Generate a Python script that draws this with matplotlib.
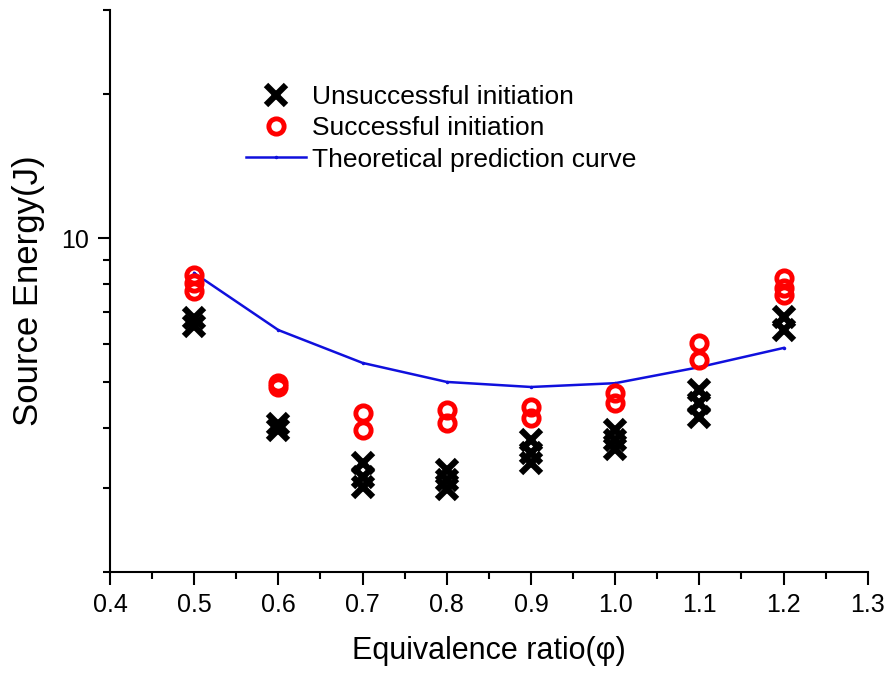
import matplotlib
matplotlib.use("Agg")
import matplotlib.pyplot as plt
from matplotlib.ticker import LogLocator, NullFormatter, FixedLocator, MultipleLocator
from matplotlib.lines import Line2D

plt.rcParams['font.family'] = ['Liberation Sans', 'DejaVu Sans']

# Unsuccessful initiation (black crosses)
fail_phi = [0.5, 0.5, 0.6, 0.6, 0.7, 0.7, 0.7, 0.8, 0.8, 0.8,
            0.9, 0.9, 0.9, 1.0, 1.0, 1.0, 1.1, 1.1, 1.1, 1.2, 1.2]
fail_E = [6.80, 6.55, 4.08, 3.96, 3.38, 3.16, 3.01, 3.27, 3.12, 2.98,
          3.78, 3.55, 3.38, 3.97, 3.78, 3.62, 4.81, 4.52, 4.22, 6.84, 6.42]

# Successful initiation (red circles)
ok_phi = [0.5, 0.5, 0.5, 0.6, 0.6, 0.7, 0.7, 0.8, 0.8,
          0.9, 0.9, 1.0, 1.0, 1.1, 1.1, 1.2, 1.2, 1.2]
ok_E = [8.37, 8.05, 7.75, 4.97, 4.88, 4.30, 3.97, 4.37, 4.10,
        4.43, 4.20, 4.74, 4.52, 6.03, 5.56, 8.25, 7.86, 7.60]

# Theoretical prediction curve
theory_phi = [0.5, 0.6, 0.7, 0.8, 0.9, 1.0, 1.1, 1.2]
theory_E = [8.45, 6.42, 5.48, 5.00, 4.88, 4.97, 5.37, 5.89]

fig = plt.figure(figsize=(8.9, 6.77), dpi=100)
ax = fig.add_axes([0.1236, 0.155, 0.8514, 0.830])

ax.plot(theory_phi, theory_E, color='#1010dd', lw=1.8, marker='.', ms=3,
        zorder=2)
ax.plot(ok_phi, ok_E, ls='none', marker='o', ms=11, mfc='none', mec='#ff0000',
        mew=3.5, zorder=3)
ax.plot(fail_phi, fail_E, ls='none', marker='x', ms=15, mec='black', mew=4.5,
        zorder=3)

ax.set_yscale('log')
ax.set_xlim(0.4, 1.3)
ax.set_ylim(2, 30)
ax.yaxis.set_major_locator(FixedLocator([10]))
ax.yaxis.set_minor_locator(LogLocator(base=10, subs=range(2, 10)))
ax.yaxis.set_major_formatter(plt.FuncFormatter(lambda v, p: '%g' % v))
ax.yaxis.set_minor_formatter(NullFormatter())
ax.xaxis.set_major_locator(MultipleLocator(0.1))
ax.xaxis.set_minor_locator(MultipleLocator(0.05))
ax.xaxis.set_major_formatter(plt.FuncFormatter(lambda v, p: '%.1f' % v))

for s in ['top', 'right']:
    ax.spines[s].set_visible(False)
for s in ['left', 'bottom']:
    ax.spines[s].set_linewidth(1.5)
ax.tick_params(which='major', direction='out', length=9, width=1.5,
               labelsize=18, pad=6)
ax.tick_params(which='minor', direction='out', length=5, width=1.5)

ax.set_xlabel('Equivalence ratio(\u03c6)', fontsize=22, labelpad=14)
ax.set_ylabel('Source Energy(J)', fontsize=25, labelpad=12)

handles = [
    Line2D([], [], ls='none', marker='x', ms=15, mec='black', mew=4.5),
    Line2D([], [], ls='none', marker='o', ms=11, mfc='none', mec='#ff0000',
           mew=3.5),
    Line2D([], [], color='#1010dd', lw=1.8, marker='.', ms=3),
]
labels = ['Unsuccessful initiation', 'Successful initiation',
          'Theoretical prediction curve']
ax.legend(handles, labels, loc='upper left', bbox_to_anchor=(0.165, 0.886),
          frameon=False, fontsize=19, handlelength=2.3, handletextpad=0.2,
          labelspacing=0.28, borderaxespad=0)

fig.savefig('out.png', dpi=100)
